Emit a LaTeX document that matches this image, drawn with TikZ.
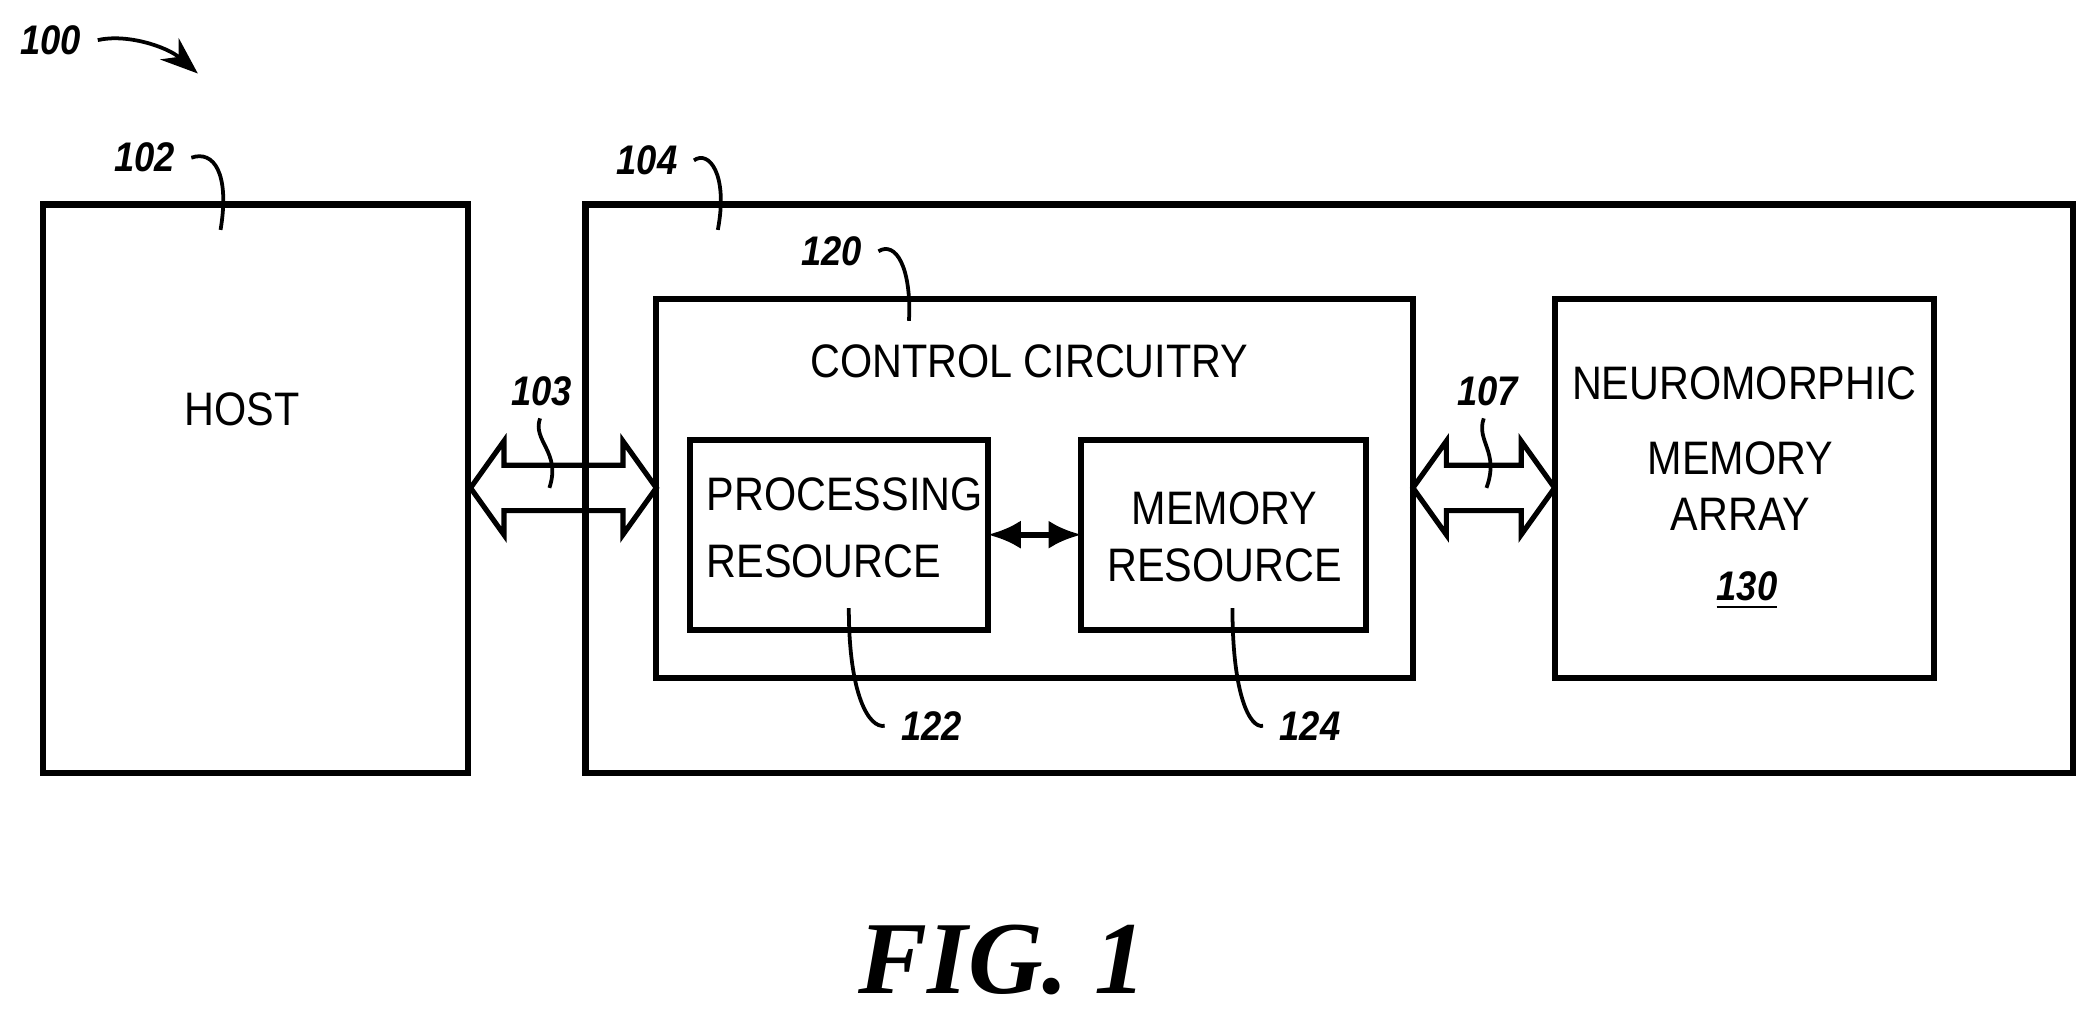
\documentclass[tikz,border=0pt]{standalone}
\usepackage{fontspec}
\setmainfont{Liberation Sans}[FakeStretch=0.88]
\newfontfamily\figfont{Liberation Serif}
\usetikzlibrary{arrows.meta}
\begin{document}
\begin{tikzpicture}[x=0.01cm,y=-0.01cm,
  box/.style={draw,line width=1.3pt},
  txt/.style={font=\fontsize{10}{11}\selectfont},
  num/.style={font=\fontsize{8.8}{10}\selectfont\bfseries\itshape},
  lead/.style={line width=0.8pt},
  fat/.style={draw,line width=1.1pt}]
\useasboundingbox (0,0) rectangle (1568,758);
\draw[box] (32,153) rectangle (350,578);
\draw[box] (438,153) rectangle (1551,578);
\draw[box] (491,224) rectangle (1057,507);
\draw[box] (516,329) rectangle (739,471);
\draw[box] (809,329) rectangle (1022,471);
\draw[box] (1163,224) rectangle (1447,507);
\node[txt] (host) at (181,306) {HOST};
\node[txt] (cc) at (770,270) {CONTROL CIRCUITRY};
\node[txt,anchor=west,inner xsep=0pt] (pr1) at (528,370) {PROCESSING};
\node[txt,anchor=west,inner xsep=0pt] (pr2) at (528,420) {RESOURCE};
\node[txt] (mr1) at (916,380) {MEMORY};
\node[txt] (mr2) at (916,423) {RESOURCE};
\node[txt] (nm1) at (1305,287) {NEUROMORPHIC};
\node[txt] (nm2) at (1302,343) {MEMORY};
\node[txt] (nm3) at (1302,385) {ARRAY};
\node[num] (n130) at (1307,442) {\underline{130}};
% fat arrows
\foreach \a/\b in {352/491,1057/1163}{
 \draw[fat] (\a,365) -- (\a+25,330) -- (\a+25,348) -- (\b-25,348) -- (\b-25,330) -- (\b,365) -- (\b-25,400) -- (\b-25,382) -- (\a+25,382) -- (\a+25,400) -- cycle;}
\coordinate (pa) at (739,400); \coordinate (ma) at (809,400);
\draw[line width=1.2pt,{Latex[length=7pt,width=6pt]}-{Latex[length=7pt,width=6pt]}] (pa) -- (ma);
% labels
\node[num] (n100) at (38,30) {100};
\coordinate (t100) at (148,55);
\draw[lead,-{Stealth[length=8pt,width=6pt]}] (n100.east) .. controls (95,25) and (125,35) .. (t100);
\node[num] (n102) at (108,118) {102};
\coordinate (t102) at (165,172);
\draw[lead] (n102.east) .. controls (160,112) and (172,130) .. (t102);
\node[num] (n104) at (484,120) {104};
\coordinate (t104) at (537,172);
\draw[lead] (n104.east) .. controls (530,112) and (545,130) .. (t104);
\node[num] (n120) at (622,188) {120};
\coordinate (t120) at (680,240);
\draw[lead] (n120.east) .. controls (670,180) and (682,200) .. (t120);
\node[num] (n103) at (405,293) {103};
\coordinate (s103) at (404,313); \coordinate (t103) at (411,365);
\draw[lead] (s103) .. controls (398,330) and (420,338) .. (t103);
\node[num] (n107) at (1113,293) {107};
\coordinate (s107) at (1110,313); \coordinate (t107) at (1112,365);
\draw[lead] (s107) .. controls (1104,330) and (1122,338) .. (t107);
\node[num] (n122) at (697,543) {122};
\coordinate (t122) at (635,455);
\draw[lead] (n122.west) .. controls (650,545) and (635,520) .. (t122);
\node[num] (n124) at (980,543) {124};
\coordinate (t124) at (922,455);
\draw[lead] (n124.west) .. controls (935,545) and (922,520) .. (t124);
\node[font=\figfont\fontsize{22}{24}\selectfont\bfseries\itshape] (fig) at (750,718) {FIG. 1};
\end{tikzpicture}
\end{document}
